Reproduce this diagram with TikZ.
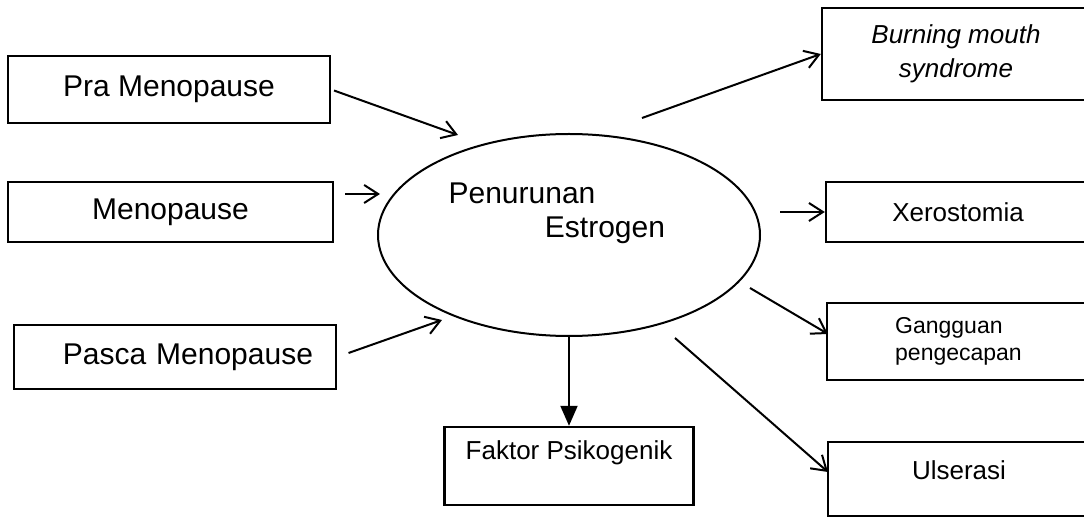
\documentclass[tikz,border=0pt]{standalone}
\usepackage{fontspec}
\setmainfont{Liberation Sans}
\usetikzlibrary{arrows.meta,shapes.geometric}

\tikzset{
  box/.style={draw=black, line width=1.2pt, rectangle, inner sep=0pt, align=center},
  big/.style={font=\fontsize{15pt}{18pt}\selectfont},
  mid/.style={font=\fontsize{13pt}{17pt}\selectfont},
  small/.style={font=\fontsize{11.5pt}{13.5pt}\selectfont},
  arr/.style={line width=1pt, -{Straight Barb[length=7pt,width=9pt]}},
  farr/.style={line width=1pt, -{Triangle[length=10pt,width=8.5pt]}},
}

\begin{document}
\begin{tikzpicture}[x=0.5pt,y=-0.5pt]
    \useasboundingbox (0,0) rectangle (1084,518);
    \clip (0,0) rectangle (1084,518);

    % left side: the three phases
    \node[box, big, minimum width=161pt, minimum height=33.5pt] (pra) at (169,89.5) {Pra Menopause};
    \node[box, big, minimum width=162.5pt, minimum height=30pt] (meno) at (170.5,212) {Menopause};
    \node[box, big, minimum width=161pt, minimum height=32pt, inner xsep=11.5pt, text width=138pt, align=right] (pasca) at (175,357) {Pasca Menopause};

    % centre
    \node[draw=black, line width=1pt, ellipse, inner sep=0pt, minimum width=191pt, minimum height=101pt] (est) at (569,235) {};
    \node[big] (penText) at (522,193) {Penurunan};
    \node[big] (estText) at (605,230) {Estrogen};

    % right side: the effects
    \node[box, mid, minimum width=134pt, minimum height=46pt] (burn) at (956,54) {\itshape Burning mouth\\\itshape syndrome};
    \node[box, mid, minimum width=132pt, minimum height=30pt] (xero) at (958,212) {Xerostomia};
    \node[box, small, minimum width=131.5pt, minimum height=38.5pt, align=left] (gang) at (958.5,341.5) {Gangguan\\pengecapan};
    \node[box, mid, minimum width=131pt, minimum height=37pt, text depth=9pt] (ulser) at (959,479) {Ulserasi};
    \node[box, mid, minimum width=124.5pt, minimum height=39pt, text depth=15.7pt] (faktor) at (569,466) {Faktor Psikogenik};

    % free arrow ends
    \coordinate (praTip) at (458,135);
    \coordinate (menoTail) at (345,194);
    \coordinate (menoTip) at (380,194);
    \coordinate (pascaTip) at (442,320);
    \coordinate (burnTail) at (642,118);
    \coordinate (xeroTail) at (780,212);
    \coordinate (gangTail) at (750,288);
    \coordinate (gangTip) at (828,334);
    \coordinate (ulserTail) at (675,338);
    \coordinate (ulserTip) at (828,472);

    \draw[arr, shorten <=1.5pt] (pra.east) -- (praTip);
    \draw[arr] (menoTail) -- (menoTip);
    \draw[arr, shorten <=6pt] (pasca.east) -- (pascaTip);

    \draw[arr] (burnTail) -- (burn.west);
    \draw[arr] (xeroTail) -- (xero.west);
    \draw[arr] (gangTail) -- (gangTip);
    \draw[arr] (ulserTail) -- (ulserTip);
    \draw[farr] (est) -- (faktor);
\end{tikzpicture}
\end{document}
